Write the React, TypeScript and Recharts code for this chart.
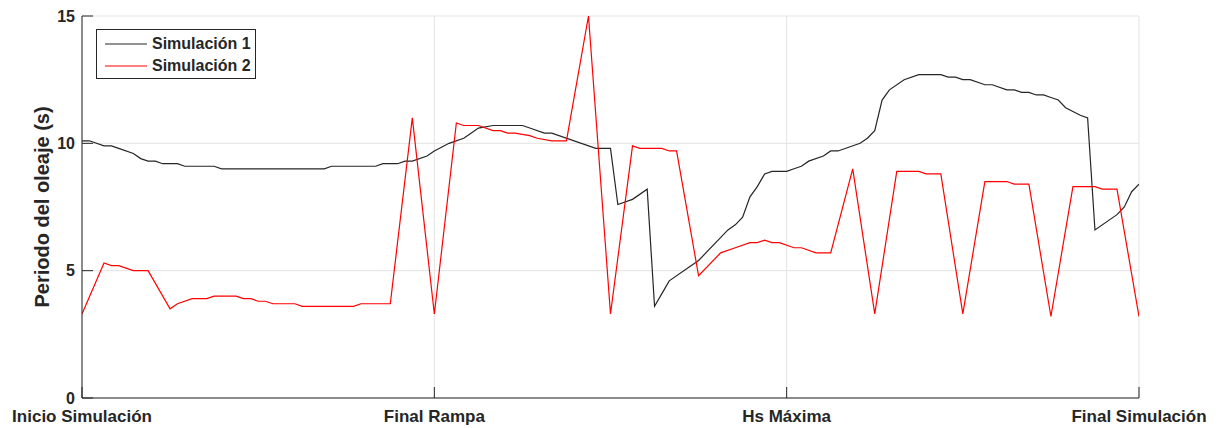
import {
  LineChart, Line, XAxis, YAxis, CartesianGrid, Legend,
} from "recharts";

// time steps (0..144) and wave period (s); only the vertices of each trace
const sim1: [number, number][] = [
  [0, 10.1], [1, 10.1], [3, 9.9], [4, 9.9], [5, 9.8], [7, 9.6], [8, 9.4], [9, 9.3],
  [10, 9.3], [11, 9.2], [13, 9.2], [14, 9.1], [18, 9.1], [19, 9.0], [33, 9.0], [34, 9.1],
  [40, 9.1], [41, 9.2], [43, 9.2], [44, 9.3], [45, 9.3], [47, 9.5], [48, 9.7], [50, 10.0],
  [52, 10.2], [53, 10.4], [54, 10.6], [56, 10.7], [60, 10.7], [61, 10.6], [63, 10.4], [64, 10.4],
  [70, 9.8], [72, 9.8], [73, 7.6], [75, 7.8], [77, 8.2], [78, 3.6], [79, 4.1], [80, 4.6],
  [84, 5.4], [88, 6.6], [89, 6.8], [90, 7.1], [91, 7.9], [92, 8.3], [93, 8.8], [94, 8.9],
  [96, 8.9], [97, 9.0], [98, 9.1], [99, 9.3], [101, 9.5], [102, 9.7], [103, 9.7], [106, 10.0],
  [107, 10.2], [108, 10.5], [109, 11.7], [110, 12.1], [112, 12.5], [114, 12.7], [117, 12.7], [118, 12.6],
  [119, 12.6], [120, 12.5], [121, 12.5], [123, 12.3], [124, 12.3], [126, 12.1], [127, 12.1], [128, 12.0],
  [129, 12.0], [130, 11.9], [131, 11.9], [132, 11.8], [133, 11.7], [134, 11.4], [136, 11.1], [137, 11.0],
  [138, 6.6], [141, 7.2], [142, 7.5], [143, 8.1], [144, 8.4],
];

const sim2: [number, number][] = [
  [0, 3.3], [3, 5.3], [4, 5.2], [5, 5.2], [7, 5.0], [9, 5.0], [12, 3.5], [13, 3.7],
  [15, 3.9], [17, 3.9], [18, 4.0], [21, 4.0], [22, 3.9], [23, 3.9], [24, 3.8], [25, 3.8],
  [26, 3.7], [29, 3.7], [30, 3.6], [37, 3.6], [38, 3.7], [42, 3.7], [45, 11.0], [48, 3.3],
  [51, 10.8], [52, 10.7], [54, 10.7], [56, 10.5], [57, 10.5], [58, 10.4], [59, 10.4], [61, 10.3],
  [62, 10.2], [64, 10.1], [66, 10.1], [69, 15.0], [72, 3.3], [75, 9.9], [76, 9.8], [79, 9.8],
  [80, 9.7], [81, 9.7], [84, 4.8], [87, 5.7], [89, 5.9], [91, 6.1], [92, 6.1], [93, 6.2],
  [94, 6.1], [95, 6.1], [97, 5.9], [98, 5.9], [100, 5.7], [102, 5.7], [105, 9.0], [108, 3.3],
  [111, 8.9], [114, 8.9], [115, 8.8], [117, 8.8], [120, 3.3], [123, 8.5], [126, 8.5], [127, 8.4],
  [129, 8.4], [132, 3.2], [135, 8.3], [138, 8.3], [139, 8.2], [141, 8.2], [144, 3.2],
];

const xTicks = [0, 48, 96, 144];
const xLabels = ["Inicio Simulación", "Final Rampa", "Hs Máxima", "Final Simulación"];
const yTicks = [0, 5, 10, 15];

const seriesNames = ["Simulación 1", "Simulación 2"];
const seriesColors = ["#262626", "#ff0000"];

const FONT = "'Liberation Sans', Arial, sans-serif";
const AXIS = "#262626";
const TICK_LEN = 11;

const toRows = (pts: [number, number][]) => pts.map(([t, v]) => ({ t, v }));

function BottomTick(props: any) {
  const { x, y, payload } = props;
  const i = xTicks.indexOf(payload.value);
  return (
    <g>
      <line x1={x} y1={y} x2={x} y2={y - TICK_LEN} stroke={AXIS} />
      <text x={x} y={y + 24} textAnchor="middle" fill={AXIS}
        fontFamily={FONT} fontWeight="bold" fontSize={17}>
        {xLabels[i]}
      </text>
    </g>
  );
}

function TopTick(props: any) {
  const { x, y } = props;
  return <line x1={x} y1={y} x2={x} y2={y + TICK_LEN} stroke={AXIS} />;
}

function LeftTick(props: any) {
  const { x, y, payload } = props;
  return (
    <g>
      <line x1={x} y1={y} x2={x + TICK_LEN} y2={y} stroke={AXIS} />
      <text x={x - 7} y={y} dy="0.36em" textAnchor="end" fill={AXIS}
        fontFamily={FONT} fontWeight="bold" fontSize={16}>
        {payload.value}
      </text>
    </g>
  );
}

function RightTick(props: any) {
  const { x, y } = props;
  return <line x1={x} y1={y} x2={x - TICK_LEN} y2={y} stroke={AXIS} />;
}

function LegendBox() {
  return (
    <div style={{
      width: 160, height: 50, boxSizing: "border-box", border: `1px solid ${AXIS}`,
      background: "#fff", padding: "3px 0 0 8px", fontFamily: FONT, fontWeight: "bold",
      fontSize: 16, color: AXIS, lineHeight: "22px",
    }}>
      {seriesNames.map((name, i) => (
        <div key={name} style={{ display: "flex", alignItems: "center", height: 22 }}>
          <svg width={42} height={4} style={{ marginRight: 5 }}>
            <line x1={0} y1={2} x2={42} y2={2} stroke={seriesColors[i]} strokeWidth={1.2} />
          </svg>
          <span>{name}</span>
        </div>
      ))}
    </div>
  );
}

export default function App() {
  return (
    <LineChart width={1204} height={420} margin={{ top: 8, right: 73, bottom: 0, left: 0 }}>
      <CartesianGrid stroke="#e3e3e3" strokeWidth={1} />
      <XAxis dataKey="t" type="number" domain={[0, 144]} ticks={xTicks} allowDataOverflow
        height={30} tickSize={0} tickMargin={0} tickLine={false}
        axisLine={{ stroke: AXIS }} tick={<BottomTick />} interval={0} />
      <XAxis xAxisId="top" orientation="top" dataKey="t" type="number" domain={[0, 144]}
        ticks={xTicks} height={0} tickSize={0} tickMargin={0} tickLine={false}
        axisLine={{ stroke: AXIS }} tick={<TopTick />} interval={0} />
      <YAxis type="number" domain={[0, 15]} ticks={yTicks} width={74} tickSize={0}
        tickMargin={0} tickLine={false} axisLine={{ stroke: AXIS }} tick={<LeftTick />}
        interval={0}
        label={{
          value: "Periodo del oleaje (s)", angle: -90, position: "center", dx: -3,
          style: { fontFamily: FONT, fontWeight: "bold", fontSize: 20, fill: AXIS },
        }} />
      <YAxis yAxisId="right" orientation="right" type="number" domain={[0, 15]} ticks={yTicks}
        width={0} tickSize={0} tickMargin={0} tickLine={false} axisLine={{ stroke: AXIS }}
        tick={<RightTick />} interval={0} />
      <Legend layout="horizontal" verticalAlign="middle" align="center"
        content={() => <LegendBox />}
        wrapperStyle={{ position: "absolute", left: 88, top: 21, width: "auto", height: "auto" }} />
      <Line data={toRows(sim1)} dataKey="v" name={seriesNames[0]} type="linear"
        stroke={seriesColors[0]} strokeWidth={1.2} dot={false} isAnimationActive={false} />
      <Line data={toRows(sim2)} dataKey="v" name={seriesNames[1]} type="linear"
        stroke={seriesColors[1]} strokeWidth={1.2} dot={false} isAnimationActive={false} />
    </LineChart>
  );
}
